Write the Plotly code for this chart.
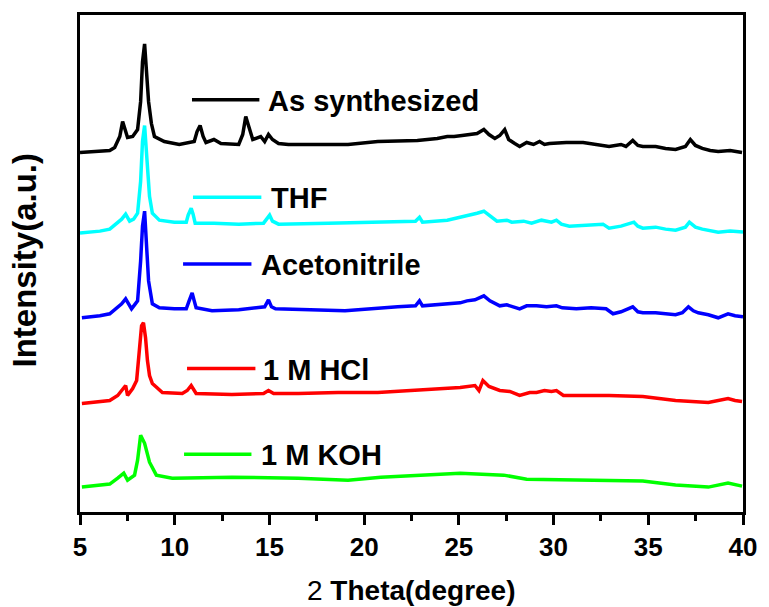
import plotly.graph_objects as go

# ---------------- data (2-theta in degrees, intensity in arbitrary units, offset stacked) -------------
as_syn_x = [5.00, 6.57, 6.83, 7.10, 7.25, 7.41, 7.51, 7.78, 8.04, 8.20, 8.30, 8.41, 8.51, 8.62, 8.77, 8.93,
            9.45, 10.24, 11.03, 11.18, 11.34, 11.50, 11.65, 12.07, 12.44, 13.38, 13.59, 13.75, 13.91, 14.12,
            14.54, 14.75, 14.95, 15.16, 15.48, 16.00, 19.15, 20.72, 22.81, 23.86, 24.39, 24.75, 25.17, 25.59,
            25.96, 26.32, 26.59, 26.90, 27.16, 27.42, 27.63, 27.95, 28.21, 28.58, 28.94, 29.26, 29.52, 29.78,
            30.67, 31.56, 32.25, 32.93, 33.56, 33.82, 34.18, 34.45, 34.71, 35.39, 35.91, 36.44, 36.96, 37.22,
            37.49, 37.85, 38.27, 38.69, 39.32, 39.95]
as_syn_y = [361, 363, 366, 377, 392, 380, 376, 377, 384, 412, 452, 470, 447, 412, 390, 377,
            372, 369, 372, 382, 388, 377, 371, 374, 370, 369, 379, 397, 387, 374,
            377, 372, 379, 374, 370, 369, 369, 372, 373, 375, 377, 377, 378, 379,
            380, 384, 379, 375, 378, 384, 374, 370, 367, 371, 369, 372, 369, 370,
            371, 371, 369, 367, 369, 367, 373, 368, 367, 367, 365, 364, 367, 374,
            368, 365, 363, 362, 363, 361]

thf_x = [5.00, 6.05, 6.57, 6.94, 7.20, 7.41, 7.62, 7.83, 8.04, 8.20, 8.30, 8.41, 8.51, 8.67, 8.82, 9.19,
         9.98, 10.61, 10.71, 10.87, 10.97, 11.08, 12.07, 13.38, 14.69, 14.85, 15.01, 15.16, 15.48, 18.10,
         20.19, 21.77, 22.71, 22.92, 23.08, 24.39, 25.28, 25.70, 25.96, 26.32, 26.64, 27.01, 27.53, 27.79,
         28.42, 28.84, 29.36, 29.89, 30.15, 30.41, 30.83, 31.72, 32.61, 32.93, 33.56, 34.24, 34.45, 34.71,
         35.39, 35.91, 36.44, 36.96, 37.17, 37.49, 37.85, 38.69, 39.32, 40.00]
thf_y = [280, 282, 284, 290, 294, 299, 292, 294, 300, 332, 372, 388, 362, 317, 300, 293,
         291, 291, 298, 305, 299, 290, 290, 289, 290, 294, 298, 292, 289, 290,
         291, 292, 292, 296, 291, 293, 297, 298, 300, 302, 297, 292, 293, 291,
         292, 290, 293, 291, 293, 289, 287, 288, 289, 285, 287, 291, 287, 285,
         286, 284, 283, 286, 291, 286, 284, 281, 282, 281]

acn_x = [5.10, 6.05, 6.57, 6.94, 7.20, 7.41, 7.62, 7.72, 7.88, 8.04, 8.20, 8.30, 8.41, 8.51, 8.62, 8.82,
         9.19, 9.98, 10.61, 10.76, 10.92, 11.03, 11.13, 11.97, 13.38, 14.75, 14.95, 15.11, 15.32, 18.99,
         20.72, 21.77, 22.71, 22.92, 23.08, 24.39, 25.07, 25.43, 25.85, 26.32, 26.64, 27.16, 27.53, 28.21,
         28.58, 29.10, 29.63, 30.15, 30.46, 31.20, 31.98, 32.77, 33.14, 33.56, 34.18, 34.45, 34.71, 35.39,
         35.91, 36.44, 36.80, 37.12, 37.38, 37.64, 38.17, 38.69, 39.21, 39.58, 40.00]
acn_y = [195, 197, 199, 205, 209, 214, 206, 204, 208, 212, 252, 287, 302, 272, 232, 209,
         205, 204, 204, 212, 220, 212, 205, 202, 203, 206, 213, 206, 204, 202,
         205, 206, 207, 212, 207, 209, 210, 212, 213, 217, 212, 207, 208, 204,
         207, 207, 206, 207, 205, 204, 205, 204, 199, 201, 206, 201, 200, 200,
         199, 198, 200, 206, 202, 200, 198, 195, 199, 197, 196]

hcl_x = [5.10, 6.57, 6.99, 7.20, 7.41, 7.51, 7.78, 7.99, 8.14, 8.25, 8.35, 8.46, 8.56, 8.67, 8.82, 9.35,
         10.40, 10.66, 10.87, 11.03, 11.13, 13.02, 14.69, 14.95, 15.22, 16.53, 18.62, 20.72, 22.45, 25.07,
         25.85, 26.06, 26.27, 26.59, 27.16, 27.69, 28.21, 28.74, 29.10, 29.52, 29.89, 30.15, 30.52, 32.93,
         34.71, 36.44, 38.17, 38.80, 39.21, 39.58, 39.95]
hcl_y = [109, 112, 117, 122, 127, 117, 124, 132, 162, 187, 190, 175, 152, 137, 129, 120,
         119, 122, 127, 122, 119, 118, 119, 122, 119, 119, 120, 120, 122, 125,
         127, 122, 132, 126, 122, 121, 117, 120, 120, 122, 121, 122, 117, 117,
         116, 112, 110, 112, 114, 112, 111]

koh_x = [5.10, 6.57, 6.99, 7.31, 7.51, 7.88, 8.04, 8.20, 8.41, 8.67, 9.03, 9.87, 13.02, 16.53, 19.15, 20.88,
         25.07, 27.37, 28.58, 31.20, 34.71, 36.44, 37.49, 38.17, 39.21, 39.95]
koh_y = [25, 28, 34, 39, 32, 37, 52, 77, 69, 50, 37, 34, 35, 34, 32, 35,
         39, 37, 33, 32, 31, 27, 26, 25, 29, 26]

series_names = ["As synthesized", "THF", "Acetonitrile", "1 M HCl", "1 M KOH"]
series_colors = ["#000000", "#00FFFF", "#0000FF", "#FF0000", "#00FF00"]
series_x = [as_syn_x, thf_x, acn_x, hcl_x, koh_x]
series_y = [as_syn_y, thf_y, acn_y, hcl_y, koh_y]

x_ticks = [5, 10, 15, 20, 25, 30, 35, 40]

# ---------------- figure -------------
FONT = "Liberation Sans"
fig = go.Figure()
for name, color, xs, ys in zip(series_names, series_colors, series_x, series_y):
    fig.add_trace(go.Scatter(x=xs, y=ys, mode="lines", name=name,
                             line=dict(color=color, width=3.5), showlegend=False))

# label keys (line sample + text), placed in paper coordinates
W, H = 669.0, 499.0
L, T = 80.0, 13.0
def px(xp):
    return (xp - L) / W
def py(yp):
    return (T + H - yp) / H

keys = [  # (x0, x1, y, text_x)
    (193, 261, 98, 268),
    (194, 263, 196, 271),
    (184, 253, 263, 261),
    (188, 257, 368, 263),
    (185, 253, 454, 261),
]
for (x0, x1, yk, tx), name, color in zip(keys, series_names, series_colors):
    fig.add_shape(type="line", xref="paper", yref="paper",
                  x0=px(x0), x1=px(x1), y0=py(yk), y1=py(yk),
                  line=dict(color=color, width=3.5))
    fig.add_annotation(xref="paper", yref="paper", x=px(tx), y=py(yk + 1),
                       xanchor="left", yanchor="middle", showarrow=False,
                       text=name, font=dict(family=FONT, size=29, color="black", weight="bold"))

# axis titles
fig.add_annotation(xref="paper", yref="paper", x=px(415), y=py(591),
                   xanchor="center", yanchor="middle", showarrow=False,
                   text="2 <b>Theta(degree)</b>",
                   font=dict(family=FONT, size=28, color="black"))
fig.add_annotation(xref="paper", yref="paper", x=px(24), y=py(259),
                   xanchor="center", yanchor="middle", showarrow=False, textangle=-90,
                   text="<b>Intensity(a.u.)</b>",
                   font=dict(family=FONT, size=33, color="black"))

fig.update_layout(
    width=769, height=607,
    margin=dict(l=80, r=20, t=13, b=95),
    paper_bgcolor="white", plot_bgcolor="white",
    xaxis=dict(range=[5, 40], tickmode="array", tickvals=x_ticks,
               ticks="outside", ticklen=10, tickwidth=2.5, tickcolor="black",
               minor=dict(dtick=2.5, tick0=5, ticks="outside", ticklen=6, tickwidth=2.5, tickcolor="black"),
               showline=True, linecolor="black", linewidth=3, mirror=True,
               showgrid=False, zeroline=False,
               tickfont=dict(family=FONT, size=26, color="black", weight="bold")),
    yaxis=dict(range=[0, 499], showticklabels=False, ticks="",
               showline=True, linecolor="black", linewidth=3, mirror=True,
               showgrid=False, zeroline=False),
)

fig.write_html("out.html")
